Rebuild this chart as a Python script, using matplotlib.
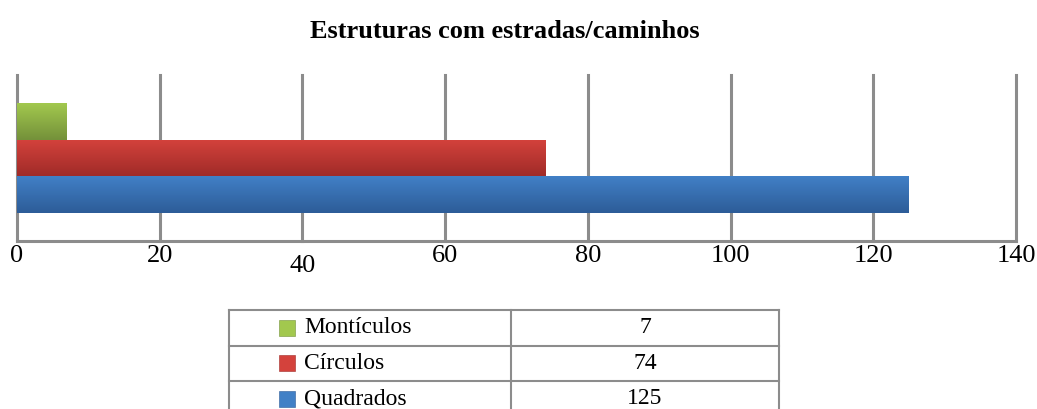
import numpy as np
import matplotlib
matplotlib.use("Agg")
import matplotlib.pyplot as plt
import matplotlib.colors as mcolors
from matplotlib.transforms import ScaledTranslation

# data
categories = ["Montículos", "Círculos", "Quadrados"]
values = [7, 74, 125]
title = "Estruturas com estradas/caminhos"
xticks = [0, 20, 40, 60, 80, 100, 120, 140]

# gradient colours (top, bottom) per series
grad = {
    "Montículos": ("#A2C84E", "#74913A"),
    "Círculos": ("#D4423C", "#A02B28"),
    "Quadrados": ("#4180C6", "#2D5C98"),
}

W, H = 1037, 409
fig = plt.figure(figsize=(W / 100, H / 100), dpi=100, facecolor="white")
plt.rcParams["font.family"] = ["Liberation Serif", "DejaVu Serif"]


def px_axes(x0, y0, x1, y1):
    # pixel box (top-left origin) -> figure axes
    return fig.add_axes([x0 / W, 1 - y1 / H, (x1 - x0) / W, (y1 - y0) / H])


ax = px_axes(17, 75, 1016, 241)
grid_c = "#8C8C8C"

# bars: first series on top, last at bottom (Excel style)
bar_h = 1 / 4.5
n = len(categories)
offsets = [(n - 1) / 2 - i for i in range(n)]
bars = ax.barh([o * bar_h for o in offsets], values, height=bar_h, zorder=3,
               color=[grad[c][0] for c in categories], linewidth=0)

for patch, cat in zip(bars.patches, categories):
    x0, y0 = patch.get_x(), patch.get_y()
    w, h = patch.get_width(), patch.get_height()
    cmap = mcolors.LinearSegmentedColormap.from_list("g", [grad[cat][1], grad[cat][0]])
    img = ax.imshow(np.linspace(0, 1, 64).reshape(-1, 1), cmap=cmap, aspect="auto",
                    extent=[x0, x0 + w, y0, y0 + h], origin="lower", zorder=4)
    img.set_clip_path(patch)

ax.set_xlim(0, 140)
ax.set_ylim(-0.5, 0.5)
ax.set_yticks([])
ax.set_xticks(xticks)
ax.grid(axis="x", color=grid_c, linewidth=2.2, zorder=1)
for gl in ax.get_xgridlines():
    gl.set_clip_on(False)
for s in ["top", "right", "left"]:
    ax.spines[s].set_visible(False)
ax.spines["bottom"].set_color(grid_c)
ax.spines["bottom"].set_linewidth(2.2)
ax.tick_params(axis="x", length=0, pad=3, labelsize=19, colors="black")
for lab, t in zip(ax.get_xticklabels(), xticks):
    if t == 40:
        lab.set_transform(lab.get_transform() + ScaledTranslation(0, -10 / 100, fig.dpi_scale_trans))

fig.text(505 / W, 1 - 31 / H, title, ha="center", va="center", fontsize=19, fontweight="bold")

# data table below the chart
tx0, tx1, tdiv = 229, 779, 511
row_h = 35.5
tab = px_axes(tx0, 310, tx1, H)
tab.set_xlim(tx0, tx1)
tab.set_ylim((H - 310) / row_h, 0)
tab.axis("off")
for i in range(n + 1):
    tab.axhline(i, color=grid_c, linewidth=1.5, clip_on=False)
tab.plot([tx0, tx0], [0, n], color=grid_c, linewidth=1.5, clip_on=False)
tab.plot([tdiv, tdiv], [0, n], color=grid_c, linewidth=1.5, clip_on=False)
tab.plot([tx1, tx1], [0, n], color=grid_c, linewidth=1.5, clip_on=False)
for i, (cat, v) in enumerate(zip(categories, values)):
    yc = i + 0.5
    tab.scatter([286.5], [yc], marker="s", s=130, color=grad[cat][0],
                edgecolors=grad[cat][1], linewidths=0.4, clip_on=False)
    tab.text(304, yc, cat, ha="left", va="center", fontsize=17)
    tab.text((tdiv + tx1) / 2, yc, str(v), ha="center", va="center", fontsize=17)

fig.savefig("out.png", dpi=100, facecolor="white")
